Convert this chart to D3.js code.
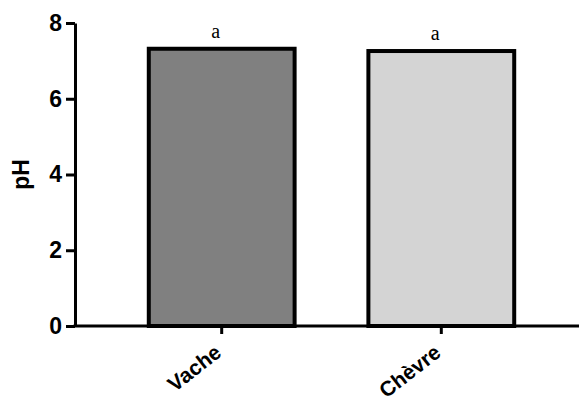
<!DOCTYPE html>
<html><head><meta charset="utf-8">
<script src="https://cdn.jsdelivr.net/npm/d3@7"></script>
<style>body{margin:0;background:#fff}svg{display:block}</style>
</head><body>
<svg id="c" width="579" height="401"></svg>
<script>
const categories = ["Vache", "Chèvre"];
const values = [7.32, 7.26];
const letters = ["a", "a"];
const fills = ["#808080", "#d4d4d4"];
const yTicks = [0, 2, 4, 6, 8];

const svg = d3.select("#c");
const x0 = 75, yBase = 326, yTop = 23;
const x = d3.scaleBand().domain(categories).range([x0, 588]).paddingInner(0.336).paddingOuter(0.336);
const y = d3.scaleLinear().domain([0, 8]).range([yBase, yTop]);

// bars
svg.selectAll("rect.bar").data(categories).enter().append("rect")
  .attr("x", d => x(d)).attr("width", x.bandwidth())
  .attr("y", (d, i) => y(values[i])).attr("height", (d, i) => yBase - y(values[i]))
  .attr("fill", (d, i) => fills[i]).attr("stroke", "#000").attr("stroke-width", 4);

// y axis
const ya = svg.append("g").attr("transform", `translate(${x0},0)`)
  .call(d3.axisLeft(y).tickValues(yTicks).tickSize(9).tickSizeOuter(0).tickPadding(4));
ya.select(".domain").attr("stroke", "#000").attr("stroke-width", 3);
ya.selectAll(".tick line").attr("stroke", "#000").attr("stroke-width", 3);
ya.selectAll(".tick text").attr("font-family", "Liberation Sans, Arial, sans-serif")
  .attr("font-weight", "bold").attr("font-size", 23).attr("fill", "#000");

// x axis
const xa = svg.append("g").attr("transform", `translate(0,${yBase})`)
  .call(d3.axisBottom(x).tickSize(8).tickSizeOuter(0).tickFormat(""));
xa.select(".domain").attr("stroke", "#000").attr("stroke-width", 3).attr("d", `M${x0 - 1.5},0H579`);
xa.selectAll(".tick line").attr("stroke", "#000").attr("stroke-width", 3);

// x labels
svg.selectAll("text.xl").data(categories).enter().append("text")
  .attr("transform", d => `translate(${x(d) + x.bandwidth() / 2 + 1},${yBase + 29}) rotate(-38)`)
  .attr("text-anchor", "end")
  .attr("font-family", "Liberation Sans, Arial, sans-serif").attr("font-weight", "bold")
  .attr("font-size", 21).attr("fill", "#000").text(d => d);

// letters
svg.selectAll("text.let").data(categories).enter().append("text")
  .attr("x", d => x(d) + x.bandwidth() / 2 - 6)
  .attr("y", (d, i) => y(values[i]) - 11)
  .attr("text-anchor", "middle")
  .attr("font-family", "Liberation Serif, Times New Roman, serif")
  .attr("font-size", 20).attr("fill", "#000").text((d, i) => letters[i]);

// y label
svg.append("text").attr("transform", `translate(29,${(yBase + yTop) / 2 + 0}) rotate(-90)`)
  .attr("text-anchor", "middle")
  .attr("font-family", "Liberation Sans, Arial, sans-serif").attr("font-weight", "bold")
  .attr("font-size", 23).attr("fill", "#000").text("pH");
</script>
</body></html>
